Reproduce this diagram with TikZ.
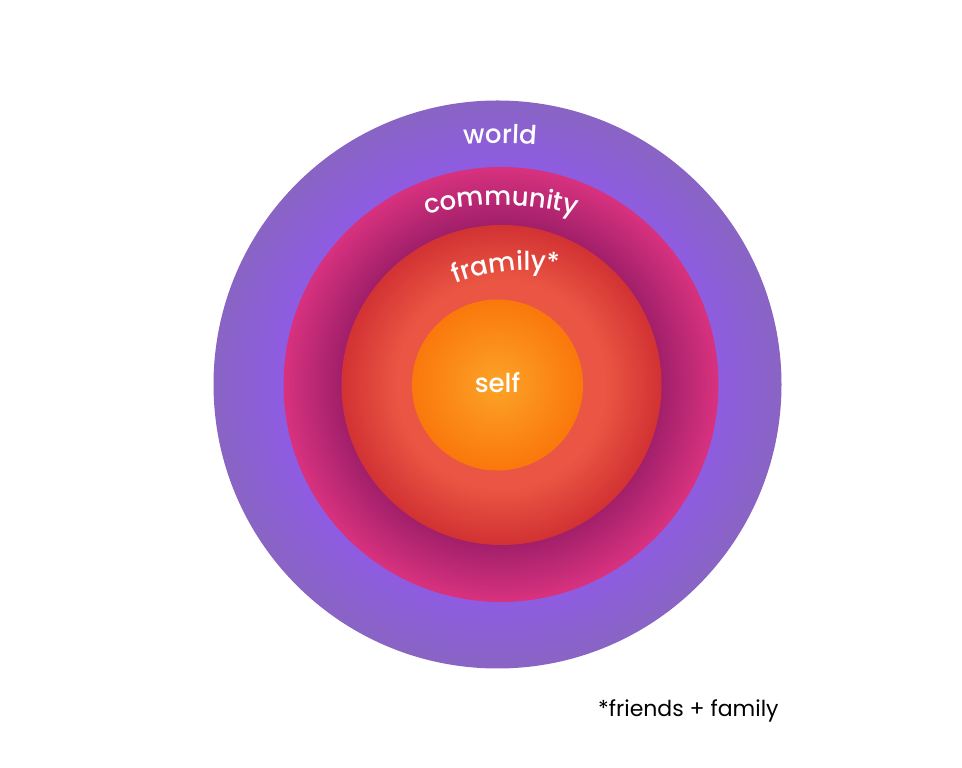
\documentclass[tikz,border=0pt]{standalone}
\usepackage{fontspec}
\setmainfont{Poppins}
\newfontfamily\lblfont{Poppins Medium}
\usetikzlibrary{decorations.text,calc}

\definecolor{wOut}{HTML}{8A64C4}
\definecolor{wIn}{HTML}{8E5CE2}
\definecolor{cOut}{HTML}{D8327F}
\definecolor{cIn}{HTML}{A11F6A}
\definecolor{fOut}{HTML}{D23233}
\definecolor{fIn}{HTML}{EA5643}
\definecolor{sOut}{HTML}{FA780C}
\definecolor{sIn}{HTML}{FCA428}

\tikzset{
  curvedlbl/.style={decorate, decoration={text along path, text align=center, text color=white, text={#1}}},
}

% \gradring{center}{outer r}{inner r}{outer colour}{inner colour}{steps}
\newcommand{\gradring}[6]{%
  \foreach \i in {0,...,#6}{%
    \pgfmathsetmacro\rr{#2-\i*(#2-#3)/#6}%
    \pgfmathtruncatemacro\pp{round(100*\i/#6)}%
    \fill[#5!\pp!#4] (#1) circle[radius=\rr pt];
  }%
}

\begin{document}
\begin{tikzpicture}[x=1pt, y=1pt]
\fill[white] (0,0) rectangle (962,768);
\useasboundingbox (0,0) rectangle (962,768);

\coordinate (cw) at (497.5,383.5);
\coordinate (cc) at (501,383.5);
\coordinate (cf) at (501.5,383);
\coordinate (cs) at (497.5,383);

% world
\gradring{cw}{284}{218}{wOut}{wIn}{40}
% community
\gradring{cc}{217.5}{160}{cOut}{cIn}{40}
% framily
\gradring{cf}{160}{105}{fOut}{fIn}{40}
% self
\gradring{cs}{85.5}{0}{sOut}{sIn}{50}

\node[anchor=base, text=white, font=\lblfont\fontsize{26}{26}\selectfont] (selftext) at (497.5,375) {self};

\path[curvedlbl={|\lblfont\fontsize{26}{26}\selectfont|world}]
  ($(500,224.5)+(110:400)$) arc[start angle=110, end angle=70, radius=400];
\path[curvedlbl={|\lblfont\fontsize{26}{26}\selectfont|community}]
  ($(501,273)+(118:290)$) arc[start angle=118, end angle=62, radius=290];
\path[curvedlbl={|\lblfont\fontsize{26}{26}\selectfont|framily*}]
  ($(528,298)+(123:200)$) arc[start angle=123, end angle=69.6, radius=200];

\node[anchor=base west, text=black, font=\fontsize{22}{22}\selectfont, inner sep=0pt] (note) at (598,51) {*friends + family};
\end{tikzpicture}
\end{document}
